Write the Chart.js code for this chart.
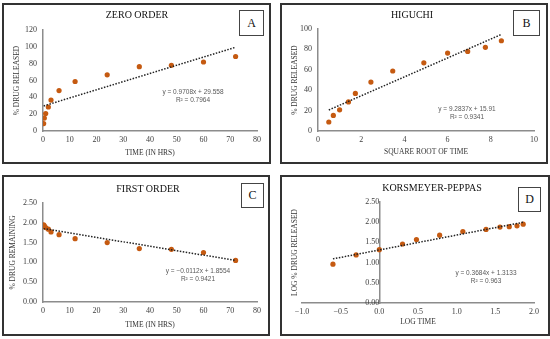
<!DOCTYPE html>
<html>
<head>
<meta charset="utf-8">
<script src="https://cdn.jsdelivr.net/npm/chart.js@4.4.1/dist/chart.umd.min.js"></script>
<style>
  body { margin: 0; background: #fff; width: 550px; height: 339px; position: relative; overflow: hidden; }
  canvas, .frame, .ttl, .tag, .eq { position: absolute; }
  .frame { box-sizing: border-box; border: 2px solid #333; pointer-events: none; }
  .ttl { font: 10px "Liberation Serif", serif; color: #111; width: 200px; text-align: center; line-height: 12px; }
  .tag { box-sizing: border-box; border: 1px solid #444; background: #fff; font: 12px "Liberation Serif", serif; color: #111; display: flex; align-items: center; justify-content: center; }
  .eq { font: 6.5px "Liberation Sans", Arial, sans-serif; color: #595959; width: 100px; text-align: center; line-height: 7.5px; }
</style>
</head>
<body>
<canvas id="chartA" width="269" height="161" style="left:2px;top:3px"></canvas>
<canvas id="chartB" width="268" height="161" style="left:280px;top:3px"></canvas>
<canvas id="chartC" width="268" height="161" style="left:2px;top:175px"></canvas>
<canvas id="chartD" width="270" height="161" style="left:280px;top:175px"></canvas>

<div class="frame" style="left:2px;top:3px;width:269px;height:161px"></div>
<div class="frame" style="left:280px;top:3px;width:268px;height:161px"></div>
<div class="frame" style="left:2px;top:175px;width:268px;height:161px"></div>
<div class="frame" style="left:280px;top:175px;width:270px;height:161px"></div>

<div class="ttl" style="left:37px;top:9px">ZERO ORDER</div>
<div class="ttl" style="left:312px;top:9px">HIGUCHI</div>
<div class="ttl" style="left:48px;top:183px">FIRST ORDER</div>
<div class="ttl" style="left:332px;top:182px">KORSMEYER-PEPPAS</div>

<div class="tag" style="left:239px;top:10px;width:25px;height:26px">A</div>
<div class="tag" style="left:513px;top:10px;width:27px;height:26px">B</div>
<div class="tag" style="left:241px;top:183px;width:23px;height:25px">C</div>
<div class="tag" style="left:518px;top:187px;width:23px;height:25px">D</div>

<div class="eq" style="left:143px;top:88px">y = 0.9708x + 29.558<br>R² = 0.7964</div>
<div class="eq" style="left:417px;top:105px">y = 9.2837x + 15.91<br>R² = 0.9341</div>
<div class="eq" style="left:148px;top:267px">y = −0.0112x + 1.8554<br>R² = 0.9421</div>
<div class="eq" style="left:436px;top:269px">y = 0.3684x + 1.3133<br>R² = 0.963</div>

<script>
// sampling times and the values
const timeHrs = [0.25, 0.5, 1, 2, 3, 6, 12, 24, 36, 48, 60, 72];
const drugReleased = [8.8, 15.3, 20.8, 28.5, 36.8, 48.0, 58.8, 66.8, 76.4, 78.0, 82.0, 88.5];
const sqrtTime = [0.50, 0.71, 1.00, 1.41, 1.73, 2.45, 3.46, 4.90, 6.00, 6.93, 7.75, 8.49];
const logRemaining = [1.95, 1.92, 1.88, 1.84, 1.77, 1.70, 1.60, 1.50, 1.35, 1.33, 1.25, 1.05];
const logTime = [-0.60, -0.30, 0.00, 0.30, 0.48, 0.78, 1.08, 1.38, 1.56, 1.68, 1.78, 1.86];
const logReleased = [0.96, 1.19, 1.32, 1.46, 1.57, 1.68, 1.77, 1.82, 1.88, 1.89, 1.91, 1.95];

// linear trendline end points (from the printed equations)
const zeroFitX = [0.25, 72], zeroFitY = [29.8, 99.5];
const higuchiFitX = [0.50, 8.49], higuchiFitY = [20.6, 94.7];
const firstFitX = [0.25, 72], firstFitY = [1.853, 1.049];
const kpFitX = [-0.60, 1.86], kpFitY = [1.092, 1.998];

const DOT = '#C55A11';
const AXIS = '#8c8c8c';
const TICK_FONT = { family: '"Liberation Serif", serif', size: 8 };
const LABEL_FONT = { family: '"Liberation Serif", serif', size: 7.5 };
const TEXT = '#404040';

const toPts = (xs, ys) => xs.map((x, i) => ({ x: x, y: ys[i] }));
const minus = s => s.replace('-', '\u2212');

function makePanel(id, o) {
    const scales = {
        x: {
            type: 'linear', min: o.xMin, max: o.xMax,
            ticks: { stepSize: o.xStep, padding: 4, font: TICK_FONT, color: TEXT,
                     callback: v => minus(v.toFixed(o.xDec)) },
            grid: { display: false, drawTicks: false },
            border: { color: AXIS, width: 1.5 },
            title: { display: true, text: o.xTitle, font: LABEL_FONT, color: '#333',
                     padding: { top: 0, bottom: o.xTitlePad } },
            afterFit: s => { s.height = o.xHeight; }
        },
        y: {
            type: 'linear', min: o.yMin, max: o.yMax,
            position: o.yAtZero ? { x: 0 } : 'left',
            ticks: { stepSize: o.yStep, padding: 6, font: TICK_FONT, color: TEXT,
                     callback: v => v.toFixed(o.yDec) },
            grid: { display: false, drawTicks: false },
            border: { color: AXIS, width: 1.5 },
            title: { display: !o.yAtZero, text: o.yTitle, font: LABEL_FONT, color: '#333',
                     padding: { top: o.yTitlePad, bottom: 0 } },
            afterFit: s => { s.width = o.left; }
        }
    };
    if (o.yAtZero) {
        // separate left axis only carrying the title, the real axis sits at x = 0
        scales.yTitle = {
            type: 'linear', axis: 'y', position: 'left', min: o.yMin, max: o.yMax,
            ticks: { display: false },
            grid: { display: false, drawTicks: false },
            border: { display: false },
            title: { display: true, text: o.yTitle, font: LABEL_FONT, color: '#333',
                     padding: { top: o.yTitlePad, bottom: 0 } },
            afterFit: s => { s.width = o.left; }
        };
    }

    return new Chart(document.getElementById(id), {
        type: 'scatter',
        data: {
            datasets: [
                { data: toPts(o.fitX, o.fitY), type: 'line', showLine: true,
                  borderColor: '#222', borderWidth: 1.5, borderDash: [1.5, 1.5],
                  pointRadius: 0, fill: false, order: 0, yAxisID: 'y' },
                { data: toPts(o.xs, o.ys), backgroundColor: DOT, borderColor: DOT,
                  pointRadius: 2.6, borderWidth: 0, order: 1, yAxisID: 'y' }
            ]
        },
        options: {
            animation: false, responsive: false, devicePixelRatio: 1,
            layout: { padding: { left: 0, top: o.top, right: o.right, bottom: 0 } },
            plugins: { legend: { display: false }, tooltip: { enabled: false } },
            scales: scales
        }
    });
}

makePanel('chartA', {
    xs: timeHrs, ys: drugReleased, fitX: zeroFitX, fitY: zeroFitY,
    xMin: 0, xMax: 80, xStep: 10, xDec: 0, yMin: 0, yMax: 120, yStep: 20, yDec: 0,
    xTitle: 'TIME (IN HRS)', yTitle: '% DRUG RELEASED',
    left: 41, top: 27, right: 14, xHeight: 33, xTitlePad: 6.5, yTitlePad: 10.5
});
makePanel('chartB', {
    xs: sqrtTime, ys: drugReleased, fitX: higuchiFitX, fitY: higuchiFitY,
    xMin: 0, xMax: 10, xStep: 2, xDec: 0, yMin: 0, yMax: 100, yStep: 10, yDec: 0,
    xTitle: 'SQUARE ROOT OF TIME', yTitle: '% DRUG RELEASED',
    left: 38, top: 26, right: 14, xHeight: 33, xTitlePad: 7.5, yTitlePad: 10.5
});
makePanel('chartC', {
    xs: timeHrs, ys: logRemaining, fitX: firstFitX, fitY: firstFitY,
    xMin: 0, xMax: 80, xStep: 10, xDec: 0, yMin: 0, yMax: 2.5, yStep: 0.5, yDec: 2,
    xTitle: 'TIME (IN HRS)', yTitle: '% DRUG REMAINING',
    left: 41, top: 28, right: 13, xHeight: 34, xTitlePad: 6.5, yTitlePad: 6.5
});
makePanel('chartD', {
    xs: logTime, ys: logReleased, fitX: kpFitX, fitY: kpFitY,
    xMin: -1, xMax: 2, xStep: 0.5, xDec: 1, yMin: 0, yMax: 2.5, yStep: 0.5, yDec: 2,
    xTitle: 'LOG TIME', yTitle: 'LOG % DRUG RELEASED', yAtZero: true,
    left: 22, top: 27, right: 16, xHeight: 33, xTitlePad: 9.5, yTitlePad: 10.5
});
</script>
</body>
</html>
